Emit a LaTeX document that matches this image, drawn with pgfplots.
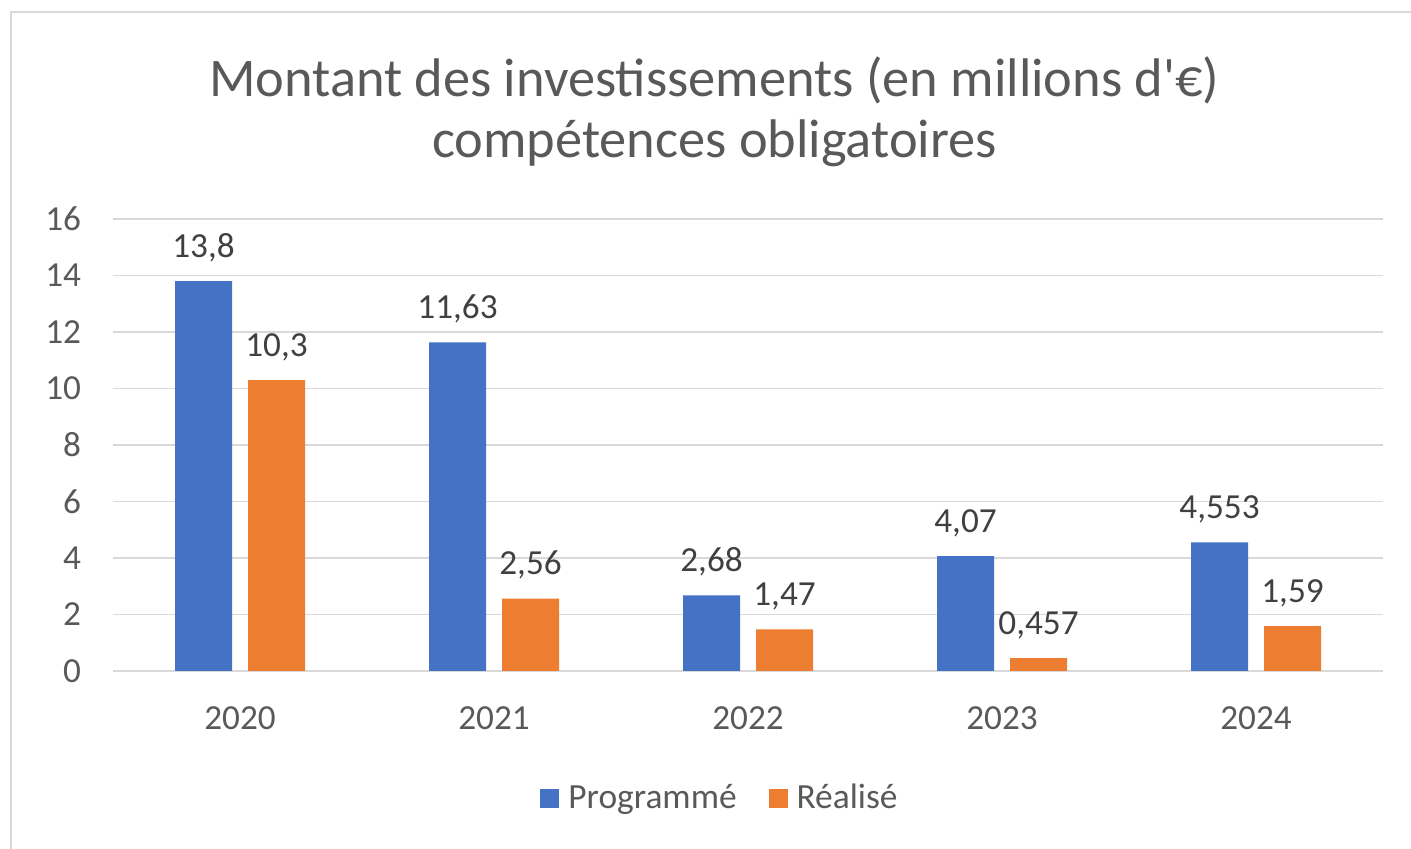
\documentclass[border=0pt]{standalone}
\usepackage{fontspec}
\setmainfont{Carlito}
\newfontfamily\plainfont{Carlito}
\usepackage{pgfplots}
\pgfplotsset{compat=1.18}
\definecolor{cblue}{HTML}{4472C4}
\definecolor{corange}{HTML}{ED7D31}
\definecolor{cgrid}{HTML}{D9D9D9}
\definecolor{ctext}{HTML}{595959}
\definecolor{clabel}{HTML}{404040}
\begin{document}
\begin{tikzpicture}[x=1pt,y=1pt]
\useasboundingbox (0,0) rectangle (705.5,424.5);
\draw[cgrid, line width=0.9pt] (5.5,-10) -- (5.5,418.5) -- (720,418.5);
\node[text=ctext, font=\fontsize{27.2}{29}\selectfont, anchor=base] at (357.25,376) {Montant des investissements (en millions d{\plainfont '}€)};
\node[text=ctext, font=\fontsize{27.2}{29}\selectfont, anchor=base] at (357.25,345.5) {compétences obligatoires};
\begin{axis}[
  at={(56.5pt,89pt)}, anchor=south west,
  width=635pt, height=226pt, scale only axis,
  xmin=-0.5, xmax=4.5, ymin=0, ymax=16,
  xtick={0,1,2,3,4}, xticklabels={2020,2021,2022,2023,2024},
  ytick={0,2,4,6,8,10,12,14,16},
  ymajorgrids, grid style={cgrid, line width=0.8pt},
  axis line style={draw=none}, tick style={draw=none},
  ticklabel style={font=\fontsize{17.6}{19}\selectfont, text=ctext},
  /pgf/number format/assume math mode=true,
  xticklabel style={anchor=base, yshift=-25pt},
  yticklabel style={anchor=east, xshift=-12.5pt},
  ybar, bar width=28.5pt,
  nodes near coords,
  every node near coord/.append style={font=\fontsize{17.6}{19}\selectfont, text=clabel, anchor=base, yshift=12pt,
    /pgf/number format/.cd, use comma, 1000 sep={}, precision=3, assume math mode=true},
  legend columns=2,
  legend style={draw=none, fill=none, at={(0.4787,-0.281)}, anchor=center,
    font=\fontsize{17.7}{19}\selectfont, text=ctext,
    /tikz/every even column/.append style={column sep=14pt}},
  legend cell align=left,
  legend image code/.code={\fill[#1] (0pt,-4.75pt) rectangle (9.5pt,4.75pt); \path (12pt,0);},
]
\addplot[fill=cblue, draw=none, bar shift=-18.25pt] coordinates {(0,13.8) (1,11.63) (2,2.68) (3,4.07) (4,4.553)};
\addplot[fill=corange, draw=none, bar shift=18.25pt] coordinates {(0,10.3) (1,2.56) (2,1.47) (3,0.457) (4,1.59)};
\legend{Programmé, Réalisé}
\end{axis}
\end{tikzpicture}
\end{document}
